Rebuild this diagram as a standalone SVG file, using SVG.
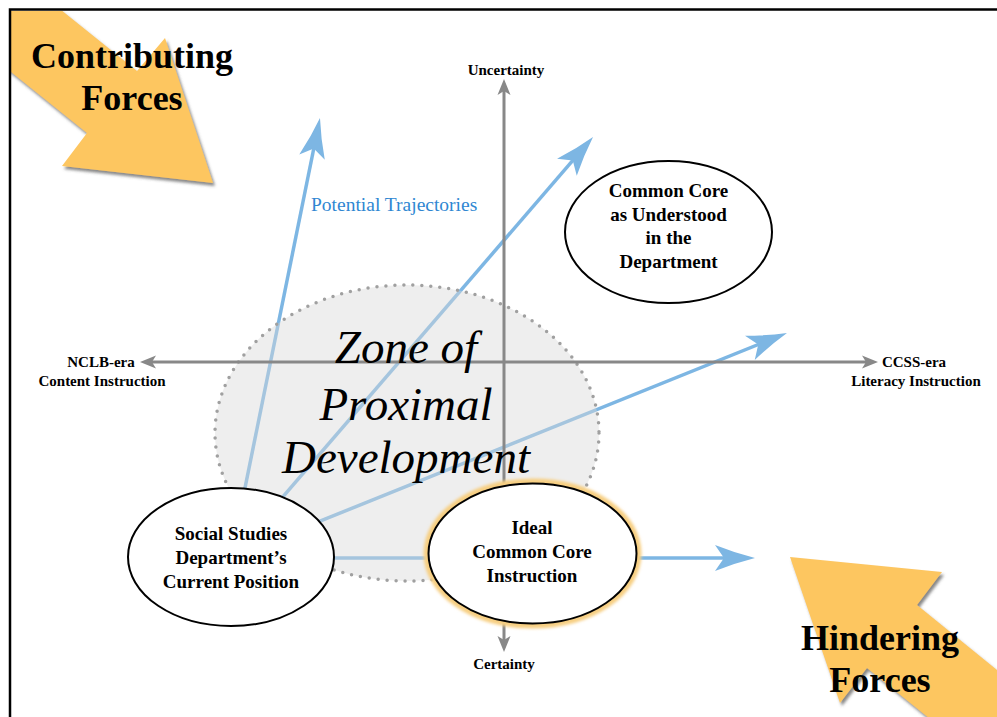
<svg xmlns="http://www.w3.org/2000/svg" width="997" height="717" viewBox="0 0 997 717">
  <style>
    .force { fill: #FDC661; filter: url(#shadow); }
    .force-label { font-family: "Liberation Serif", "Times New Roman", serif; font-weight: bold; font-size: 36px; fill: #000; text-anchor: middle; }
    .axis { stroke: #888; stroke-width: 3; fill: none; }
    .axis-label { font-family: "Liberation Serif", "Times New Roman", serif; font-weight: bold; font-size: 15px; fill: #000; text-anchor: middle; }
    .traj { stroke: #7DB6E3; stroke-width: 3.5; fill: none; marker-end: url(#blueHead); }
    .node { fill: #fff; stroke: #000; stroke-width: 2; }
    .node-label { font-family: "Liberation Serif", "Times New Roman", serif; font-weight: bold; font-size: 19px; fill: #000; text-anchor: middle; }
    .zone-label { font-family: "Liberation Serif", "Times New Roman", serif; font-style: italic; font-size: 47px; fill: #000; text-anchor: middle; }
    .traj-label { font-family: "Liberation Serif", "Times New Roman", serif; font-size: 19.5px; fill: #2F87D2; }
  </style>
  <defs>
    <filter id="shadow" x="-10%" y="-10%" width="130%" height="130%">
      <feDropShadow dx="2" dy="3" stdDeviation="1.5" flood-color="#555" flood-opacity="0.7"/>
    </filter>
    <filter id="glow" x="-10%" y="-10%" width="120%" height="120%">
      <feGaussianBlur stdDeviation="1.5"/>
    </filter>
    <clipPath id="frameClip">
      <rect x="11" y="11" width="986" height="706"/>
    </clipPath>
    <!-- stealth arrowhead for the trajectories; tip sits 25px past the line end -->
    <marker id="blueHead" markerUnits="userSpaceOnUse" orient="auto" refX="0" refY="0" markerWidth="80" markerHeight="40" viewBox="-20 -20 50 40" overflow="visible">
      <path d="M25,0 Q5,-5 -15,-13 L-6,0 L-15,13 Q5,5 25,0 Z" fill="#7DB6E3"/>
    </marker>
    <!-- smaller arrowhead for the axes -->
    <marker id="grayHead" markerUnits="userSpaceOnUse" orient="auto" refX="0" refY="0" markerWidth="30" markerHeight="20" viewBox="-10 -10 30 20" overflow="visible">
      <path d="M10,0 L-6,-6.5 L-2,0 L-6,6.5 Z" fill="#888"/>
    </marker>
  </defs>

  <rect x="0" y="0" width="997" height="717" fill="#fff"/>

  <!-- force arrows -->
  <g id="contributing-forces" clip-path="url(#frameClip)">
    <polygon class="force" points="20,-23 137,71 165,38 213,183 62,166 87,133 -20,47"/>
    <text class="force-label" x="132" y="68">Contributing</text>
    <text class="force-label" x="132" y="110">Forces</text>
  </g>
  <g id="hindering-forces" clip-path="url(#frameClip)">
    <polygon class="force" points="790,557 942,572 917,605 1072,731 945,731 867,668 840,703"/>
    <text class="force-label" x="880" y="650">Hindering</text>
    <text class="force-label" x="880" y="692">Forces</text>
  </g>

  <!-- potential trajectories from the current position -->
  <g id="connectors">
    <line class="traj" x1="231" y1="557" x2="315" y2="142.5"/>
    <line class="traj" x1="231" y1="557" x2="576.7" y2="155.9"/>
    <line class="traj" x1="231" y1="557" x2="763.8" y2="342.3"/>
    <line class="traj" x1="231" y1="558" x2="730" y2="558"/>
  </g>

  <!-- zone of proximal development -->
  <g id="zone">
    <ellipse cx="407" cy="433" rx="192" ry="148" fill="#D8D8D8" fill-opacity="0.44" stroke="#A0A0A0" stroke-width="3.5" stroke-dasharray="0 9" stroke-linecap="round"/>
  </g>

  <!-- axes -->
  <g id="axes">
    <line class="axis" x1="504" y1="362" x2="150" y2="362" marker-end="url(#grayHead)"/>
    <line class="axis" x1="504" y1="362" x2="868" y2="362" marker-end="url(#grayHead)"/>
    <line class="axis" x1="504" y1="362" x2="504" y2="89" marker-end="url(#grayHead)"/>
    <line class="axis" x1="504" y1="362" x2="504" y2="642" marker-end="url(#grayHead)"/>
    <text class="axis-label" x="506" y="75">Uncertainty</text>
    <text class="axis-label" x="504" y="669">Certainty</text>
    <text class="axis-label" x="101" y="367">NCLB-era</text>
    <text class="axis-label" x="102" y="386">Content Instruction</text>
    <text class="axis-label" x="914" y="367">CCSS-era</text>
    <text class="axis-label" x="916" y="386">Literacy Instruction</text>
  </g>

  <g id="zone-text">
    <text class="zone-label" x="406" y="363">Zone of</text>
    <text class="zone-label" x="406" y="420">Proximal</text>
    <text class="zone-label" x="406" y="473">Development</text>
  </g>

  <text class="traj-label" x="311" y="211">Potential Trajectories</text>

  <!-- nodes -->
  <g id="current-position">
    <ellipse class="node" cx="231" cy="557" rx="103" ry="69"/>
    <text class="node-label" x="231" y="540">Social Studies</text>
    <text class="node-label" x="231" y="564">Department’s</text>
    <text class="node-label" x="231" y="588">Current Position</text>
  </g>
  <g id="ideal-common-core">
    <ellipse cx="532.5" cy="553.5" rx="105" ry="71" fill="none" stroke="#F7CF82" stroke-width="8" filter="url(#glow)"/>
    <ellipse class="node" cx="532.5" cy="553.5" rx="104" ry="70"/>
    <text class="node-label" x="532" y="534">Ideal</text>
    <text class="node-label" x="532" y="558">Common Core</text>
    <text class="node-label" x="532" y="582">Instruction</text>
  </g>
  <g id="common-core-department">
    <ellipse class="node" cx="668.5" cy="232" rx="103.5" ry="71"/>
    <text class="node-label" x="668.5" y="197">Common Core</text>
    <text class="node-label" x="668.5" y="221">as Understood</text>
    <text class="node-label" x="668.5" y="244">in the</text>
    <text class="node-label" x="668.5" y="268">Department</text>
  </g>

  <!-- frame -->
  <g id="frame">
    <path d="M10,717 V9.5 H997" fill="none" stroke="#000" stroke-width="2.5"/>
  </g>
</svg>
